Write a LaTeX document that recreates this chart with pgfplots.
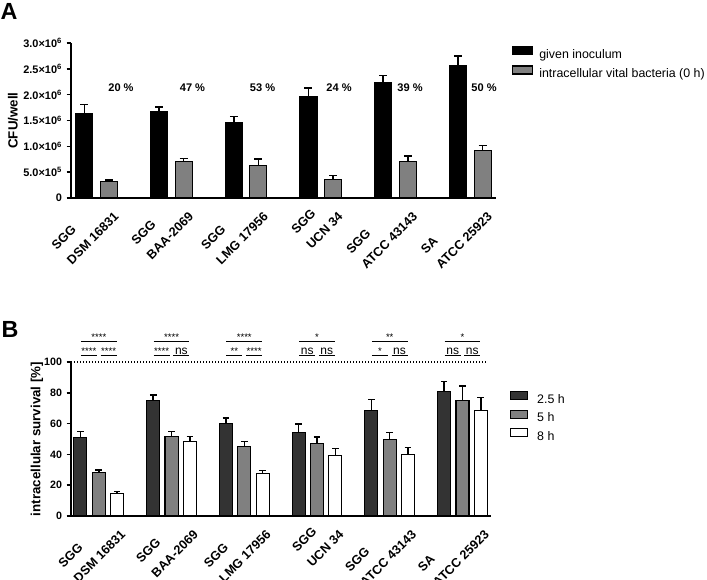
\documentclass[border=0pt]{standalone}
\usepackage{pgfplots}
\pgfplotsset{compat=1.18}
\usepackage{pgfplotstable}
\usepackage{fontspec}
\setmainfont{Liberation Sans}

\definecolor{dark}{HTML}{333333}
\definecolor{mid}{HTML}{808080}

% bar positions: group centre 0..5, black bar at -0.165, grey bar at +0.165
\pgfplotstableread{
xk black eblack xg gray egray
-0.165 1630000 175000 0.165 311000 40000
0.835 1680000 85000 1.165 711000 52000
1.835 1462000 111000 2.165 621000 130000
2.835 1967000 161000 3.165 355000 85000
3.835 2233000 142000 4.165 700000 110000
4.835 2555000 189000 5.165 913000 107000
}\dataA

% bar positions: 2.5 h at -0.252, 5 h at 0, 8 h at +0.252
\pgfplotstableread{
xa a ea xb b eb xc c ec
-0.252 51.1 3.9 0 28.1 1.8 0.252 14.7 1.1
0.748 75.1 3.5 1 51.5 3.2 1.252 48.3 3.4
1.748 59.9 3.7 2 45.3 3.0 2.252 27.7 1.7
2.748 54.3 5.4 3 47.0 4.3 3.252 39.4 4.3
3.748 68.8 7.0 4 49.8 4.3 4.252 40.0 4.4
4.748 80.7 6.5 5 74.9 9.5 5.252 68.2 8.9
}\dataB

\newcommand\stf{\fontsize{7.2}{8}\selectfont}
\newcommand\nsf{\fontsize{9}{10}\selectfont}
% #1 L, #2 c-0.025, #3 c+0.025, #4 R, #5 top text, #6 left text, #7 right text
\newcommand\sig[7]{%
  \draw[line width=1.1pt] (axis cs:#1,113.2) -- node[midway,anchor=base,inner sep=0pt,yshift=1.2pt]{#5} (axis cs:#4,113.2);
  \draw[line width=1.1pt] (axis cs:#1,104.1) -- node[midway,anchor=base,inner sep=0pt,yshift=1.2pt]{#6} (axis cs:#2,104.1);
  \draw[line width=1.1pt] (axis cs:#3,104.1) -- node[midway,anchor=base,inner sep=0pt,yshift=1.2pt]{#7} (axis cs:#4,104.1);
}

\pgfplotsset{
  gp/.style={
    scale only axis,
    axis lines*=left,
    axis line style={line width=1.2pt},
    enlargelimits=false,
    ytick pos=left,
    tick align=outside,
    major tick length=3.2pt,
    ytick style={line width=1.2pt, black},
    xtick style={draw=none},
    xtick={0,1,2,3,4,5},
    xticklabels={{SGG\\DSM 16831},{SGG\\BAA-2069},{SGG\\LMG 17956},{SGG\\UCN 34},{SGG\\ATCC 43143},{SA\\ATCC 25923}},
    clip=false,
    legend cell align=left,
  },
  boxA/.style={legend image code/.code={\draw[##1,line width=0.8pt] (0pt,0.4pt) rectangle (15pt,6.4pt); \path (19.7pt,0pt);}},
  boxB/.style={legend image code/.code={\draw[##1,line width=0.8pt] (0pt,0.3pt) rectangle (12.5pt,6.3pt); \path (19.5pt,0pt);}},
  ebA/.style={error bars/.cd, y dir=plus, y explicit,
    error bar style={line width=1.1pt, black},
    error mark=-,
    error mark options={rotate=90, line width=1.1pt, mark size=3pt, black}},
  ebB/.style={error bars/.cd, y dir=plus, y explicit,
    error bar style={line width=1.1pt, black},
    error mark=-,
    error mark options={rotate=90, line width=1.1pt, mark size=2.5pt, black}},
}

\begin{document}
\begin{tikzpicture}
\useasboundingbox (0pt,0pt) rectangle (530.25pt,435pt);

\node[anchor=base west, inner sep=0pt, font=\bfseries\fontsize{17.5}{20}\selectfont] at (0.3pt,420pt) {A};
\node[anchor=base west, inner sep=0pt, font=\bfseries\fontsize{17.5}{20}\selectfont] at (1.0pt,181.5pt) {B};

% ---------------- Panel A ----------------
\begin{axis}[gp,
  at={(53.25pt,286.5pt)}, anchor=south west,
  width=318.75pt, height=116.25pt,
  xmin=-0.344, xmax=5.345,
  ymin=0, ymax=3000000,
  scaled y ticks=false,
  xticklabel style={yshift=6pt, xshift=1pt, rotate=45, anchor=north east, align=left, font=\bfseries\fontsize{9.5}{16}\selectfont, inner sep=1pt},
  ytick={0,500000,1000000,1500000,2000000,2500000,3000000},
  yticklabels={0,{5.0×10\textsuperscript{5}},{1.0×10\textsuperscript{6}},{1.5×10\textsuperscript{6}},{2.0×10\textsuperscript{6}},{2.5×10\textsuperscript{6}},{3.0×10\textsuperscript{6}}},
  yticklabel style={font=\bfseries\fontsize{8.2}{9}\selectfont},
  ylabel={CFU/well},
  every axis y label/.style={at={(axis description cs:-0.1365,0.5)}, rotate=90, anchor=center, font=\bfseries\fontsize{10}{12}\selectfont},
  legend style={draw=none, fill=none, at={(1.037,0.985)}, anchor=north west, inner sep=0pt, row sep=4pt,
    nodes={inner sep=0pt, font=\fontsize{9.3}{11}\selectfont, text height=6.7pt, text depth=1.5pt}},
]
\addplot[ybar, bar width=0.228, bar shift=0, fill=black, draw=black, line width=0.8pt, boxA, ebA]
  table[x=xk, y=black, y error=eblack]{\dataA};
\addlegendentry{given inoculum}
\addplot[ybar, bar width=0.228, bar shift=0, fill=mid, draw=black, line width=0.8pt, boxA, ebA]
  table[x=xg, y=gray, y error=egray]{\dataA};
\addlegendentry{intracellular vital bacteria (0 h)}

\begin{scope}[every node/.style={font=\bfseries\fontsize{8.3}{10}\selectfont}]
\node at (axis cs:0.325,2136000) {20 \%};
\node at (axis cs:1.282,2136000) {47 \%};
\node at (axis cs:2.220,2136000) {53 \%};
\node at (axis cs:3.244,2136000) {24 \%};
\node at (axis cs:4.194,2136000) {39 \%};
\node at (axis cs:5.185,2136000) {50 \%};
\end{scope}
\end{axis}

% ---------------- Panel B ----------------
\begin{axis}[gp,
  at={(53.25pt,48pt)}, anchor=south west,
  width=315pt, height=115.5pt,
  xmin=-0.382, xmax=5.392,
  ymin=0, ymax=100,
  xticklabel style={yshift=6pt, xshift=4.5pt, rotate=45, anchor=north east, align=left, font=\bfseries\fontsize{9.5}{16}\selectfont, inner sep=1pt},
  ytick={0,20,40,60,80,100},
  /pgf/number format/assume math mode=true,
  yticklabel style={font=\bfseries\fontsize{8}{9}\selectfont},
  ylabel={intracellular survival [\%]},
  every axis y label/.style={at={(axis description cs:-0.081,0.5)}, rotate=90, anchor=center, font=\bfseries\fontsize{10}{12}\selectfont},
  legend style={draw=none, fill=none, at={(1.045,0.815)}, anchor=north west, inner sep=0pt, row sep=3.3pt,
    nodes={inner sep=0pt, font=\fontsize{9.3}{11}\selectfont, text height=6.7pt, text depth=1.5pt}},
]
\addplot[ybar, bar width=0.179, bar shift=0, fill=dark, draw=black, line width=0.8pt, boxB, ebB]
  table[x=xa, y=a, y error=ea]{\dataB};
\addlegendentry{2.5 h}
\addplot[ybar, bar width=0.179, bar shift=0, fill=mid, draw=black, line width=0.8pt, boxB, ebB]
  table[x=xb, y=b, y error=eb]{\dataB};
\addlegendentry{5 h}
\addplot[ybar, bar width=0.179, bar shift=0, fill=white, draw=black, line width=0.8pt, boxB, ebB]
  table[x=xc, y=c, y error=ec]{\dataB};
\addlegendentry{8 h}

\addplot[black, line width=1pt, dash pattern=on 0.9pt off 1.35pt, forget plot] coordinates {(-0.382,100) (5.35,100)};

\sig{-0.245}{-0.025}{0.025}{0.245}{\stf ****}{\stf ****}{\stf ****}
\sig{0.755}{0.975}{1.025}{1.245}{\stf ****}{\stf ****}{\nsf ns}
\sig{1.755}{1.975}{2.025}{2.245}{\stf ****}{\stf **}{\stf ****}
\sig{2.755}{2.975}{3.025}{3.245}{\stf *}{\nsf ns}{\nsf ns}
\sig{3.755}{3.975}{4.025}{4.245}{\stf **}{\stf *}{\nsf ns}
\sig{4.755}{4.975}{5.025}{5.245}{\stf *}{\nsf ns}{\nsf ns}
\end{axis}
\end{tikzpicture}
\end{document}
